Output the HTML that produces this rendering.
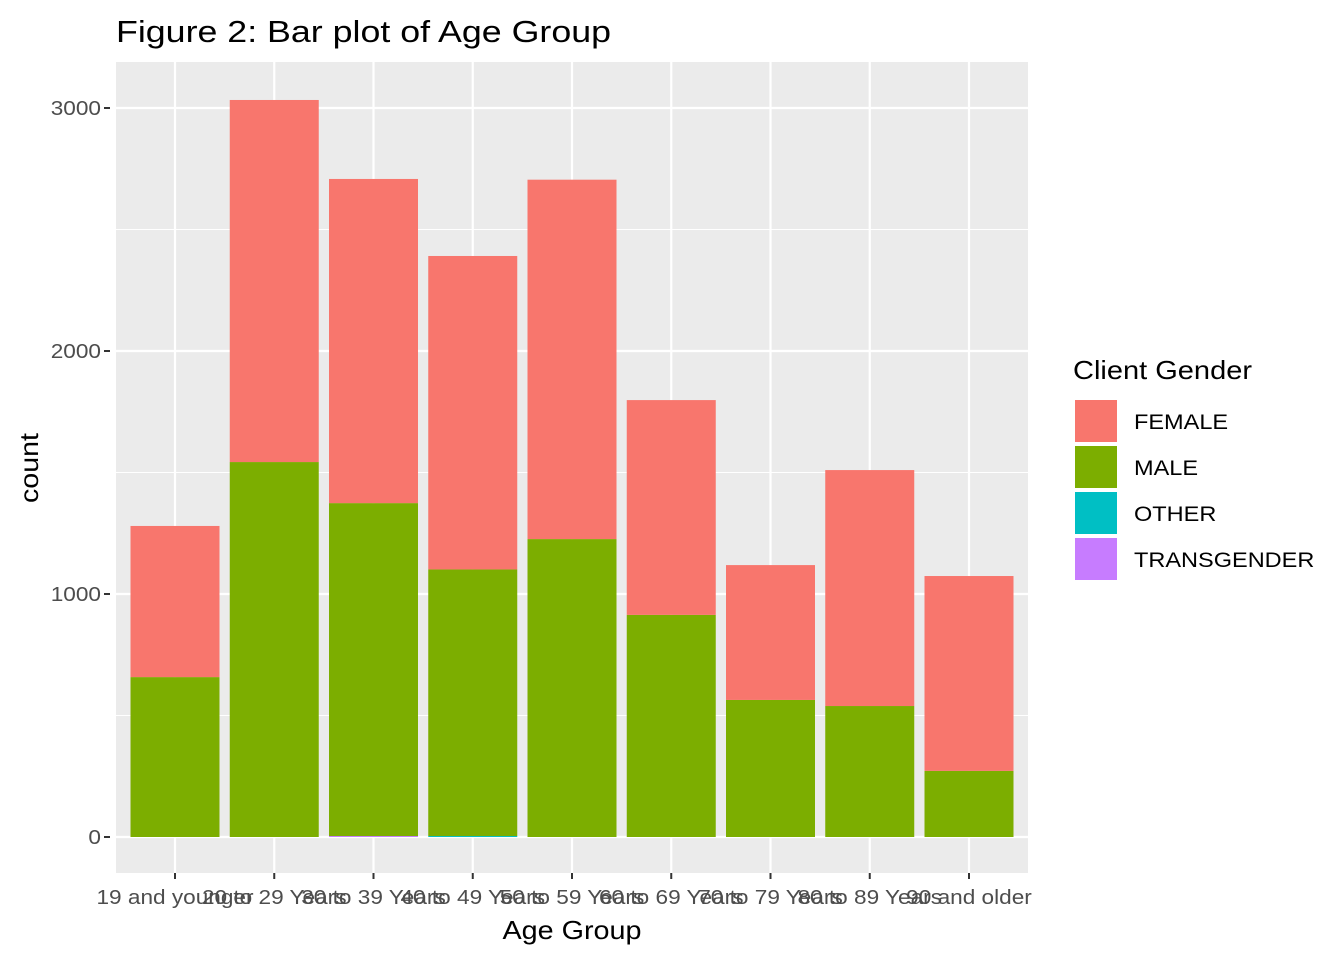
<!DOCTYPE html>
<html><head><meta charset="utf-8"><style>
body{margin:0;background:#fff;font-family:"Liberation Sans",sans-serif}
svg text{font-family:"Liberation Sans",sans-serif}
</style></head><body>
<svg id="c" width="1344" height="960" xmlns="http://www.w3.org/2000/svg">
<text x="116" y="42" font-size="31" textLength="495" lengthAdjust="spacingAndGlyphs" fill="#000">Figure 2: Bar plot of Age Group</text>
<rect x="116" y="62" width="912" height="811" fill="#EBEBEB"/>
<g id="grid"></g><g id="bars"></g><g id="axes"></g>
<text x="572" y="939" font-size="26" textLength="139" lengthAdjust="spacingAndGlyphs" text-anchor="middle">Age Group</text>
<text transform="translate(38,468) rotate(-90)" font-size="26" textLength="70" lengthAdjust="spacingAndGlyphs" text-anchor="middle">count</text>
<g id="legend">
<text x="1073" y="379" font-size="26" textLength="179" lengthAdjust="spacingAndGlyphs">Client Gender</text>
</g>
</svg>
<script>
const categories=["19 and younger","20 to 29 Years","30 to 39 Years","40 to 49 Years","50 to 59 Years","60 to 69 Years","70 to 79 Years","80 to 89 Years","90 and older"];
const male=[658,1543,1370,1097,1226,914,564,539,272];
const other=[0,0,0,4,0,0,0,0,0];
const transgender=[0,0,4,0,0,0,0,0,0];
const female=[622,1490,1334,1290,1479,884,555,971,802];
const yTicks=[0,1000,2000,3000];
const series=[["TRANSGENDER",transgender,"#C77CFF"],["OTHER",other,"#00BFC4"],["MALE",male,"#7CAE00"],["FEMALE",female,"#F8766D"]];
const legendOrder=[["FEMALE","#F8766D"],["MALE","#7CAE00"],["OTHER","#00BFC4"],["TRANSGENDER","#C77CFF"]];
const NS="http://www.w3.org/2000/svg";
const y=v=>837-v*0.243;
const x=i=>175+i*99.25;
const bw=89;
function mk(t,a,p){const e=document.createElementNS(NS,t);for(const k in a)e.setAttribute(k,a[k]);p.appendChild(e);return e;}
function widen(t,f){const w=t.getComputedTextLength();t.setAttribute('textLength',w*f);t.setAttribute('lengthAdjust','spacingAndGlyphs');}
const grid=document.getElementById('grid'),bars=document.getElementById('bars'),axes=document.getElementById('axes'),leg=document.getElementById('legend');
for(let k=0;k<yTicks.length-1;k++){const m=(yTicks[k]+yTicks[k+1])/2;const l=mk('line',{x1:116,x2:1028,y1:y(m),y2:y(m),stroke:'#fff','stroke-width':1},grid);

}
yTicks.forEach(t=>{const l=mk('line',{x1:116,x2:1028,y1:y(t),y2:y(t),stroke:'#fff','stroke-width':2.2},grid);


const tk=mk('line',{x1:104,x2:110,y1:y(t),y2:y(t),stroke:'#333','stroke-width':2},axes);


const tx=mk('text',{x:101,y:y(t)+7,'font-size':20,fill:'#4D4D4D','text-anchor':'end'},axes);tx.textContent=t;


widen(tx,1.13);});
categories.forEach((c,i)=>{const l=mk('line',{x1:x(i),x2:x(i),y1:62,y2:873,stroke:'#fff','stroke-width':2.2},grid);


const tk=mk('line',{x1:x(i),x2:x(i),y1:873,y2:879,stroke:'#333','stroke-width':2},axes);


const tx=mk('text',{x:x(i),y:904,'font-size':20,fill:'#4D4D4D','text-anchor':'middle'},axes);tx.textContent=c;


widen(tx,1.13);
let base=0;series.forEach(s=>{const v=s[1][i];if(v>0){const r=mk('rect',{x:x(i)-bw/2,y:y(base+v),width:bw,height:v*0.243,fill:s[2]},bars);

}base+=v;});});
legendOrder.forEach((s,k)=>{const yy=399+k*46;const r=mk('rect',{x:1074,y:yy,width:44,height:44,fill:s[1],stroke:'#fff','stroke-width':2},leg);


const t=mk('text',{x:1134,y:yy+30,'font-size':21},leg);t.textContent=s[0];


widen(t,1.12);});
</script>
</body></html>
